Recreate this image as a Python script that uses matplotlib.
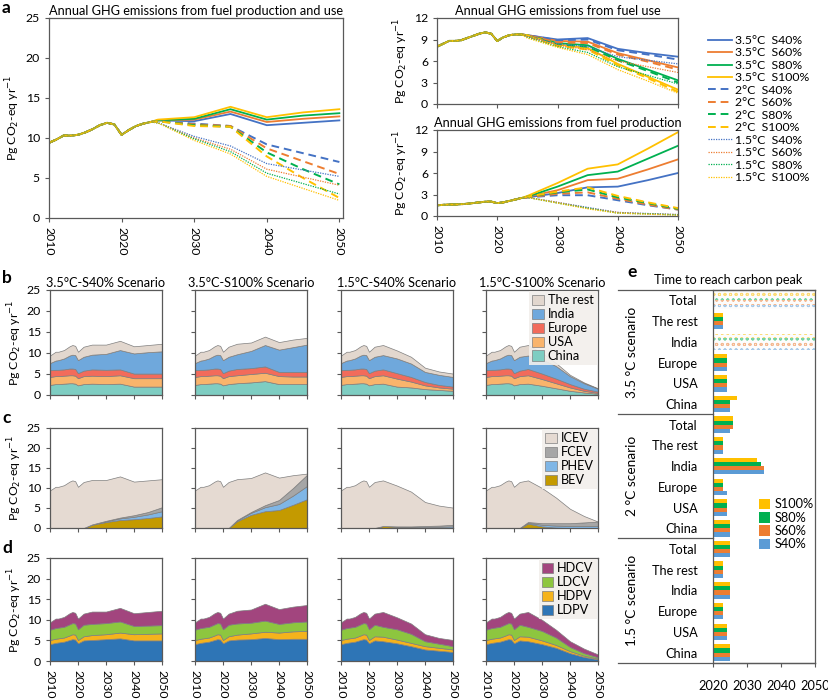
import matplotlib.pyplot as plt
from matplotlib.patches import Patch
from matplotlib.lines import Line2D
import numpy as np

plt.rcParams['font.family'] = ['Lato', 'DejaVu Sans']
plt.rcParams['hatch.linewidth'] = 0.7
plt.rcParams['axes.edgecolor'] = '#595959'
plt.rcParams['xtick.color'] = '#595959'
plt.rcParams['ytick.color'] = '#595959'
plt.rcParams['xtick.labelcolor'] = 'black'
plt.rcParams['ytick.labelcolor'] = 'black'

W, H = 829, 699
fig = plt.figure(figsize=(W / 100, H / 100), dpi=100)


def add_ax(l, t, r, b):
    # axes placed by pixel edges of the figure
    return fig.add_axes([l / W, 1 - b / H, (r - l) / W, (b - t) / H])


YLAB = 'Pg CO$_2$-eq yr$^{-1}$'

# ---------------- panel a data ----------------
hist_yrs = list(range(2010, 2025))
scn_yrs = [2025, 2030, 2035, 2040, 2045, 2050]
temps = ['3.5°C', '2°C', '1.5°C']
shares = ['S40%', 'S60%', 'S80%', 'S100%']

hist_total = [9.4, 9.8, 10.3, 10.3, 10.4, 10.7, 11.1, 11.6, 11.9, 11.7, 10.4, 11.0, 11.5, 11.8, 12.0]
hist_use = [8.0, 8.4, 8.8, 8.8, 8.9, 9.2, 9.5, 9.8, 10.0, 9.8, 8.8, 9.3, 9.6, 9.7, 9.7]
hist_prod = [1.5, 1.55, 1.6, 1.6, 1.65, 1.7, 1.8, 1.9, 2.0, 2.0, 1.8, 1.9, 2.1, 2.3, 2.5]

# rows: S40, S60, S80, S100
total_35 = [[12.2, 12.1, 13.0, 11.6, 11.9, 12.2],
            [12.2, 12.3, 13.3, 12.0, 12.4, 12.7],
            [12.2, 12.4, 13.6, 12.3, 12.8, 13.1],
            [12.3, 12.6, 13.9, 12.6, 13.2, 13.6]]
total_20 = [[12.1, 11.8, 11.5, 9.2, 8.1, 7.0],
            [12.1, 11.7, 11.5, 8.7, 7.1, 5.5],
            [12.1, 11.6, 11.4, 8.2, 6.1, 4.2],
            [12.1, 11.5, 11.4, 7.7, 5.0, 2.5]]
total_15 = [[11.9, 10.2, 9.0, 6.8, 6.0, 5.2],
            [11.9, 10.0, 8.6, 6.1, 5.1, 4.1],
            [11.9, 9.9, 8.3, 5.6, 4.3, 3.0],
            [11.9, 9.7, 8.0, 5.2, 3.7, 2.2]]

use_35 = [[9.6, 9.0, 9.2, 7.7, 7.1, 6.6],
          [9.6, 8.8, 8.7, 7.1, 6.1, 5.1],
          [9.6, 8.5, 8.2, 6.3, 4.8, 3.3],
          [9.6, 8.3, 7.8, 5.6, 3.8, 2.0]]
use_20 = [[9.6, 8.9, 9.0, 7.5, 6.9, 6.2],
          [9.6, 8.6, 8.5, 6.9, 5.9, 4.8],
          [9.5, 8.3, 8.0, 6.1, 4.6, 3.0],
          [9.5, 8.1, 7.6, 5.4, 3.6, 1.7]]
use_15 = [[9.4, 8.4, 8.0, 6.6, 6.1, 5.6],
          [9.4, 8.2, 7.6, 6.0, 5.2, 4.4],
          [9.3, 8.0, 7.2, 5.2, 4.0, 2.8],
          [9.2, 7.9, 6.9, 4.8, 3.2, 1.5]]

prod_35 = [[2.6, 3.2, 4.0, 4.1, 5.0, 6.0],
           [2.7, 3.6, 5.0, 5.2, 6.5, 7.9],
           [2.7, 4.1, 5.7, 6.2, 8.0, 9.8],
           [2.8, 4.6, 6.6, 7.2, 9.4, 11.7]]
prod_20 = [[2.6, 2.9, 2.9, 2.2, 1.5, 0.9],
           [2.6, 3.1, 3.3, 2.4, 1.6, 0.9],
           [2.7, 3.3, 3.7, 2.6, 1.8, 1.0],
           [2.7, 3.4, 4.0, 2.8, 1.9, 1.1]]
prod_15 = [[2.6, 1.9, 1.2, 0.5, 0.35, 0.2],
           [2.6, 1.9, 1.1, 0.5, 0.3, 0.2],
           [2.6, 1.8, 1.1, 0.4, 0.3, 0.15],
           [2.6, 1.8, 1.0, 0.4, 0.25, 0.1]]

# ---------------- panels b-d data ----------------
b_hist_yrs = [2010, 2012, 2013, 2015, 2017, 2018, 2019, 2020, 2022]
scen_titles = ['3.5°C-S40% Scenario', '3.5°C-S100% Scenario',
               '1.5°C-S40% Scenario', '1.5°C-S100% Scenario']

tot_hist = [9.4, 10.3, 10.3, 10.7, 11.6, 11.9, 11.7, 10.3, 11.5]
tot_scen = [[12.0, 12.0, 12.9, 11.6, 11.9, 12.2],
            [12.2, 12.5, 13.9, 12.6, 13.2, 13.6],
            [11.9, 10.6, 9.1, 6.5, 5.6, 5.1],
            [11.9, 10.0, 7.6, 4.8, 3.0, 1.6]]

# b: regions (The rest = remainder up to the total)
china_hist = [2.4, 2.6, 2.6, 2.7, 2.8, 2.8, 2.7, 2.3, 2.6]
usa_hist = [1.9, 1.9, 1.9, 1.9, 1.9, 1.9, 1.9, 1.7, 1.9]
europe_hist = [1.6, 1.5, 1.5, 1.5, 1.6, 1.6, 1.6, 1.2, 1.3]
india_hist = [1.7, 2.2, 2.3, 2.6, 3.1, 3.3, 3.3, 3.1, 3.3]
china_scen = [[2.7, 2.6, 2.7, 2.0, 2.0, 2.0],
              [2.8, 3.0, 3.3, 2.6, 2.6, 2.6],
              [2.7, 2.0, 1.8, 1.4, 1.2, 1.0],
              [2.7, 2.2, 1.6, 1.0, 0.6, 0.3]]
usa_scen = [[1.9, 1.9, 2.0, 2.0, 2.0, 2.0],
            [1.9, 2.0, 2.0, 1.9, 1.8, 1.8],
            [2.0, 1.9, 1.4, 0.9, 0.6, 0.5],
            [2.0, 1.6, 1.2, 0.8, 0.4, 0.2]]
europe_scen = [[1.5, 1.5, 1.4, 1.1, 1.1, 1.1],
               [1.5, 1.4, 1.5, 1.0, 1.1, 1.1],
               [1.4, 1.3, 1.1, 0.8, 0.6, 0.5],
               [1.5, 1.3, 1.1, 0.8, 0.5, 0.3]]
india_scen = [[3.5, 3.8, 4.6, 4.8, 5.1, 5.3],
              [3.5, 4.1, 5.1, 5.3, 5.9, 6.5],
              [3.4, 3.5, 3.2, 2.4, 2.4, 2.3],
              [3.2, 3.4, 3.0, 1.9, 1.3, 0.7]]

# c: powertrains (ICEV = remainder)
bev_scen = [[0.8, 1.5, 2.0, 2.2, 2.5, 2.9],
            [1.7, 3.3, 4.2, 4.5, 5.8, 7.2],
            [0.5, 0.3, 0.1, 0.0, 0.0, 0.0],
            [1.1, 0.4, 0.1, 0.0, 0.0, 0.0]]
phev_scen = [[0.1, 0.2, 0.4, 0.6, 0.9, 1.3],
             [0.2, 0.5, 1.0, 1.5, 2.3, 3.3],
             [0.0, 0.1, 0.2, 0.3, 0.3, 0.4],
             [0.2, 0.4, 0.5, 0.5, 0.5, 0.5]]
fcev_scen = [[0.0, 0.1, 0.2, 0.4, 0.6, 1.0],
             [0.1, 0.2, 0.5, 1.0, 1.9, 2.8],
             [0.0, 0.0, 0.1, 0.2, 0.3, 0.4],
             [0.2, 0.4, 0.6, 0.7, 0.9, 1.1]]

# d: vehicle types (HDCV = remainder)
ldpv_hist = [4.1, 4.4, 4.5, 4.7, 5.1, 5.3, 5.2, 4.3, 5.0]
hdpv_hist = [1.0, 1.0, 1.0, 1.0, 1.1, 1.2, 1.2, 0.8, 1.0]
ldcv_hist = [2.5, 2.6, 2.6, 2.6, 2.7, 2.7, 2.7, 2.6, 2.8]
ldpv_scen = [[5.1, 5.3, 5.5, 5.0, 5.0, 5.0],
             [5.2, 5.3, 5.6, 5.3, 5.4, 5.4],
             [4.8, 4.3, 3.6, 2.8, 2.5, 2.2],
             [4.8, 4.1, 3.2, 1.9, 1.0, 0.4]]
hdpv_scen = [[1.2, 1.2, 1.4, 1.5, 1.6, 1.7],
             [1.2, 1.4, 1.5, 1.6, 1.8, 1.9],
             [1.1, 0.9, 0.8, 0.8, 0.7, 0.6],
             [1.1, 0.9, 0.7, 0.5, 0.3, 0.2]]
ldcv_scen = [[2.7, 2.7, 2.7, 2.0, 2.0, 2.0],
             [2.7, 2.6, 2.7, 2.1, 2.2, 2.3],
             [2.4, 2.5, 2.2, 1.2, 1.0, 0.8],
             [2.4, 2.3, 1.8, 1.0, 0.6, 0.3]]

# ---------------- panel e data ----------------
e_cats = ['Total', 'The rest', 'India', 'Europe', 'USA', 'China'] * 3
nan = np.nan
peak_s40 = [nan, 2023, nan, 2024, 2024, 2025, 2025, 2023, 2035, 2024, 2024, 2025,
            2025, 2023, 2025, 2023, 2024, 2025]
peak_s60 = [nan, 2023, nan, 2024, 2024, 2025, 2026, 2023, 2035, 2023, 2024, 2025,
            2025, 2023, 2025, 2023, 2024, 2025]
peak_s80 = [nan, 2023, nan, 2024, 2024, 2025, 2026, 2023, 2034, 2023, 2024, 2025,
            2025, 2023, 2025, 2023, 2024, 2025]
peak_s100 = [nan, 2023, nan, 2024, 2024, 2027, 2026, 2023, 2033, 2023, 2024, 2025,
             2025, 2023, 2025, 2023, 2024, 2025]

# ---------------- styles ----------------
LINE_COLS = ['#4472C4', '#ED7D31', '#00B050', '#FFC000']
LINE_STY = ['-', (0, (4, 2.5)), (0, (1, 1))]
LINE_W = [1.3, 1.4, 0.9]
TS = 8.8


def style_ax(ax):
    ax.tick_params(labelsize=TS, length=3, width=0.8, direction='out')
    for s in ax.spines.values():
        s.set_linewidth(0.9)


def draw_lines(ax, hist, groups):
    yrs = hist_yrs + scn_yrs
    for ti, grp in enumerate(groups):
        for si, sc in enumerate(grp):
            ax.plot(yrs, hist + sc, color=LINE_COLS[si], ls=LINE_STY[ti], lw=LINE_W[ti])


# panel a main
axa = add_ax(49, 18, 343, 218)
draw_lines(axa, hist_total, [total_35, total_20, total_15])
axa.set_xlim(2010, 2050.5)
axa.set_ylim(0, 25)
axa.set_yticks(range(0, 26, 5))
axa.set_xticks(range(2010, 2051, 10))
axa.tick_params(axis='x', labelrotation=270)
axa.set_ylabel(YLAB, fontsize=TS, labelpad=3)
axa.set_title('Annual GHG emissions from fuel production and use', fontsize=TS + 0.4, pad=2)
style_ax(axa)

axu = add_ax(437, 18, 678, 104)
draw_lines(axu, hist_use, [use_35, use_20, use_15])
axu.set_title('Annual GHG emissions from fuel use', fontsize=TS + 0.4, pad=2)
axp = add_ax(437, 130, 678, 216)
draw_lines(axp, hist_prod, [prod_35, prod_20, prod_15])
axp.set_title('Annual GHG emissions from fuel production', fontsize=TS + 0.4, pad=2)
for ax in (axu, axp):
    ax.set_xlim(2010, 2050)
    ax.set_ylim(0, 12)
    ax.set_yticks(range(0, 13, 3))
    ax.set_xticks(range(2010, 2051, 10))
    ax.set_ylabel(YLAB, fontsize=TS, labelpad=3)
    style_ax(ax)
axu.tick_params(axis='x', labelbottom=False)
axp.tick_params(axis='x', labelrotation=270)

handles, labels = [], []
for ti, t in enumerate(temps):
    for si, s in enumerate(shares):
        handles.append(Line2D([], [], color=LINE_COLS[si], ls=LINE_STY[ti], lw=LINE_W[ti]))
        labels.append(t + '  ' + s)
fig.legend(handles, labels, loc='upper left', bbox_to_anchor=(703 / W, 1 - 30 / H),
           frameon=False, fontsize=TS, handlelength=2.0, labelspacing=0.12,
           handletextpad=0.2, borderaxespad=0)

# panels b-d
cols_b = ['#7ECDC2', '#F9B46C', '#F26B5B', '#6FA8DC', '#E2D7CE']
labs_b = ['China', 'USA', 'Europe', 'India', 'The rest']
cols_c = ['#C49A00', '#7FB6E6', '#A6A6A6', '#E5DAD2']
labs_c = ['BEV', 'PHEV', 'FCEV', 'ICEV']
cols_d = ['#2E75B6', '#F5B31C', '#8DC63F', '#A2457E']
labs_d = ['LDPV', 'HDPV', 'LDCV', 'HDCV']

col_l = [50, 195, 341, 486]
rows = [(290, 395), (428, 528), (558, 661)]
b_yrs = b_hist_yrs + scn_yrs
zero_hist = [0.0] * len(b_hist_yrs)

for k in range(4):
    total = np.array(tot_hist + tot_scen[k])
    lay_b = [np.array(china_hist + china_scen[k]), np.array(usa_hist + usa_scen[k]),
             np.array(europe_hist + europe_scen[k]), np.array(india_hist + india_scen[k])]
    lay_b.append(total - sum(lay_b))
    lay_c = [np.array(zero_hist + bev_scen[k]), np.array(zero_hist + phev_scen[k]),
             np.array(zero_hist + fcev_scen[k])]
    lay_c.append(total - sum(lay_c))
    lay_d = [np.array(ldpv_hist + ldpv_scen[k]), np.array(hdpv_hist + hdpv_scen[k]),
             np.array(ldcv_hist + ldcv_scen[k])]
    lay_d.append(total - sum(lay_d))

    for r, (lays, cols, labs) in enumerate([(lay_b, cols_b, labs_b),
                                            (lay_c, cols_c, labs_c),
                                            (lay_d, cols_d, labs_d)]):
        t, b = rows[r]
        ax = add_ax(col_l[k], t, col_l[k] + 112, b)
        ax.stackplot(b_yrs, *lays, colors=cols, edgecolor='#7F7F7F', linewidth=0.5)
        ax.set_xlim(2010, 2050)
        ax.set_ylim(0, 25)
        ax.set_yticks(range(0, 26, 5))
        ax.set_xticks(range(2010, 2051, 10))
        style_ax(ax)
        if k > 0:
            ax.tick_params(axis='y', labelleft=False)
        else:
            ax.set_ylabel(YLAB, fontsize=TS, labelpad=2)
        if r < 2:
            ax.tick_params(axis='x', labelbottom=False)
        else:
            ax.tick_params(axis='x', labelrotation=270)
        if r == 0:
            ax.set_title(scen_titles[k], fontsize=TS + 0.4, pad=2)
        if k == 3:
            hs = [Patch(facecolor=c, edgecolor='#7F7F7F', lw=0.5) for c in cols][::-1]
            leg = ax.legend(hs, labs[::-1], loc='upper right', fontsize=TS + 0.4,
                            frameon=True, fancybox=False, borderaxespad=0.1,
                            handlelength=0.9, handleheight=0.9, handletextpad=0.3,
                            labelspacing=0.15, borderpad=0.25)
            leg.get_frame().set_facecolor('#F2EFEC')
            leg.get_frame().set_edgecolor('none')
            leg.get_frame().set_alpha(0.9)

# panel e
axe = add_ax(713, 290, 815, 663)
bar_cols = ['#5B9BD5', '#ED7D31', '#00B050', '#FFC000']
bar_labs = ['S40%', 'S60%', 'S80%', 'S100%']
offsets = [0.3, 0.1, -0.1, -0.3]
ypos = np.arange(len(e_cats))
for si, peaks in enumerate([peak_s40, peak_s60, peak_s80, peak_s100]):
    p = np.array(peaks, dtype=float)
    ok = ~np.isnan(p)
    axe.barh(ypos[ok] + offsets[si], p[ok] - 2020, left=2020, height=0.2,
             color=bar_cols[si], lw=0, label=bar_labs[si])
    axe.barh(ypos[~ok] + offsets[si], np.full((~ok).sum(), 30), left=2020, height=0.2,
             facecolor='#FAFAFA', edgecolor=bar_cols[si], hatch='ooo', lw=0, alpha=0.5)
axe.set_ylim(len(e_cats) - 0.5, -0.5)
axe.set_xlim(2020, 2050)
axe.set_xticks([2020, 2030, 2040, 2050])
axe.set_yticks(ypos)
axe.set_yticklabels(e_cats)
axe.tick_params(axis='y', length=0, pad=11, labelsize=TS + 0.4)
axe.tick_params(axis='x', labelsize=TS + 0.4, length=3, pad=9)
for s in axe.spines.values():
    s.set_linewidth(0.9)
eh, el = axe.get_legend_handles_labels()
axe.legend(eh[::-1], el[::-1], loc='upper left', bbox_to_anchor=(0.4, 0.455),
           frameon=False, fontsize=TS + 0.4, handlelength=0.9, handleheight=0.9,
           handletextpad=0.3, labelspacing=0.1, borderaxespad=0)
axe.set_title('Time to reach carbon peak', fontsize=TS + 0.4, pad=4, x=0.15)

# group separators of panel e
for yy in [290, 414, 538, 663]:
    x1 = 815 if yy in (290, 663) else 713
    fig.add_artist(Line2D([618 / W, x1 / W], [1 - yy / H, 1 - yy / H],
                          color='#595959', lw=0.9))
for lab, yc in [('3.5 °C scenario', 352), ('2 °C scenario', 476), ('1.5 °C scenario', 600)]:
    fig.text(632 / W, 1 - yc / H, lab, rotation=90, ha='center', va='center', fontsize=TS + 1)

# panel letters
for lab, x, y in [('a', 2, 8), ('b', 2, 278), ('c', 2, 418), ('d', 2, 548), ('e', 627, 272)]:
    fig.text(x / W, 1 - y / H, lab, fontsize=12.5, fontweight='bold', va='center')

fig.savefig('out.png', dpi=100)
